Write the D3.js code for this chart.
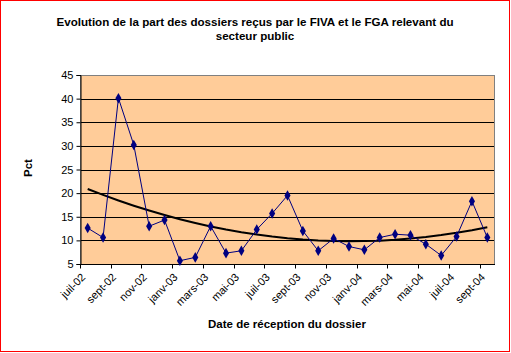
<!DOCTYPE html>
<html lang="fr">
<head>
<meta charset="UTF-8">
<title>Evolution FIVA / FGA</title>
<script src="https://d3js.org/d3.v7.min.js"></script>
<style>
  body { margin: 0; padding: 0; background: #fff; }
  svg { display: block; font-family: "Liberation Sans", Arial, sans-serif; }
  .tick text { font-size: 11px; fill: #000; }
  .title { font-size: 11.6px; font-weight: bold; }
  .axis-title { font-size: 11.5px; font-weight: bold; }
</style>
</head>
<body>
<script>
// months on the x axis (one point per month)
const months = ["juil-02","août-02","sept-02","oct-02","nov-02","déc-02",
  "janv-03","févr-03","mars-03","avr-03","mai-03","juin-03","juil-03","août-03",
  "sept-03","oct-03","nov-03","déc-03","janv-04","févr-04","mars-04","avr-04",
  "mai-04","juin-04","juil-04","août-04","sept-04"];
// share of files from the public sector (%)
const pct = [12.6, 10.6, 40.1, 30.2, 13.0, 14.3, 5.7, 6.4, 13.0, 7.3, 7.8, 12.3,
  15.7, 19.5, 12.0, 7.8, 10.4, 8.7, 8.0, 10.6, 11.3, 11.1, 9.2, 6.8, 10.8, 18.3, 10.6];
const yTicks = [5, 10, 15, 20, 25, 30, 35, 40, 45];

const W = 511, H = 353;
const plot = { left: 80, top: 75, right: 495, bottom: 264 };

const svg = d3.select("body").append("svg")
  .attr("width", W).attr("height", H);

// red outer frame
svg.append("rect")
  .attr("x", 0.5).attr("y", 0.5).attr("width", 509).attr("height", 351)
  .attr("fill", "#fff").attr("stroke", "#ff0000").attr("stroke-width", 1);

const x = d3.scaleBand().domain(months).range([plot.left, plot.right]);
const y = d3.scaleLinear().domain([5, 45]).range([plot.bottom, plot.top]);

// plot background
svg.append("rect")
  .attr("x", plot.left).attr("y", plot.top)
  .attr("width", plot.right - plot.left).attr("height", plot.bottom - plot.top)
  .attr("fill", "#ffcc99");

// horizontal gridlines
svg.append("g")
  .selectAll("line")
  .data(yTicks.slice(1, -1))
  .join("line")
  .attr("x1", plot.left).attr("x2", plot.right)
  .attr("y1", d => Math.round(y(d)) + 0.5).attr("y2", d => Math.round(y(d)) + 0.5)
  .attr("stroke", "#000").attr("stroke-width", 1);

// plot border
svg.append("rect")
  .attr("x", plot.left + 0.5).attr("y", plot.top + 0.5)
  .attr("width", plot.right - plot.left - 1).attr("height", plot.bottom - plot.top)
  .attr("fill", "none").attr("stroke", "#808080");

// y axis
const yAxis = svg.append("g")
  .attr("transform", `translate(${plot.left + 0.5},0)`)
  .call(d3.axisLeft(y).tickValues(yTicks).tickSize(4).tickPadding(3));
yAxis.select(".domain").attr("stroke", "#000");
yAxis.selectAll(".tick text").attr("font-family", "Liberation Sans, Arial, sans-serif");

// x axis: tick marks at every second category boundary
const bw = x.bandwidth();
const xAxisG = svg.append("g").attr("transform", `translate(0,${plot.bottom + 0.5})`);
xAxisG.append("line")
  .attr("x1", plot.left).attr("x2", plot.right)
  .attr("stroke", "#000");
xAxisG.selectAll(".xt")
  .data(months.filter((d, i) => i % 2 === 0))
  .join("line")
  .attr("class", "xt")
  .attr("x1", d => Math.round(x(d)) + 0.5).attr("x2", d => Math.round(x(d)) + 0.5)
  .attr("y1", 0).attr("y2", 4)
  .attr("stroke", "#000");
xAxisG.selectAll(".xl")
  .data(months.filter((d, i) => i % 2 === 0))
  .join("text")
  .attr("class", "xl")
  .attr("font-size", 11)
  .attr("text-anchor", "end")
  .attr("transform", d => `translate(${x(d) + bw / 2 - 7},${8}) rotate(-45)`)
  .attr("dy", "0.7em")
  .text(d => d);

// quadratic trend line (least squares on the monthly values)
function polyFit2(ys) {
  let s = [0, 0, 0, 0, 0], t = [0, 0, 0];
  ys.forEach((v, i) => {
    const xi = i + 1;
    for (let k = 0; k < 5; k++) s[k] += Math.pow(xi, k);
    for (let k = 0; k < 3; k++) t[k] += v * Math.pow(xi, k);
  });
  const A = [[s[0], s[1], s[2], t[0]], [s[1], s[2], s[3], t[1]], [s[2], s[3], s[4], t[2]]];
  for (let i = 0; i < 3; i++) {
    for (let j = i + 1; j < 3; j++) {
      const f = A[j][i] / A[i][i];
      for (let k = i; k < 4; k++) A[j][k] -= f * A[i][k];
    }
  }
  const c = [0, 0, 0];
  for (let i = 2; i >= 0; i--) {
    let sum = A[i][3];
    for (let k = i + 1; k < 3; k++) sum -= A[i][k] * c[k];
    c[i] = sum / A[i][i];
  }
  return c;
}
const coef = polyFit2(pct);
const trend = months.map((m, i) => {
  const xi = i + 1;
  return coef[0] + coef[1] * xi + coef[2] * xi * xi;
});

const cx = d => x(d) + bw / 2;

svg.append("path")
  .datum(months)
  .attr("fill", "none")
  .attr("stroke", "#000")
  .attr("stroke-width", 2)
  .attr("d", d3.line().x(d => cx(d)).y((d, i) => y(trend[i])));

// data series
svg.append("path")
  .datum(months)
  .attr("fill", "none")
  .attr("stroke", "#000080")
  .attr("stroke-width", 1)
  .attr("d", d3.line().x(d => cx(d)).y((d, i) => y(pct[i])));

svg.append("g")
  .selectAll("path")
  .data(months)
  .join("path")
  .attr("transform", (d, i) => `translate(${cx(d)},${y(pct[i])})`)
  .attr("d", d3.symbol().type(d3.symbolDiamond).size(32))
  .attr("fill", "#000080");

// titles
const title = svg.append("text").attr("class", "title")
  .attr("text-anchor", "middle");
title.append("tspan").attr("x", 255).attr("y", 26)
  .text("Evolution de la part des dossiers reçus par le FIVA et le FGA relevant du");
title.append("tspan").attr("x", 255).attr("y", 40).text("secteur public");

svg.append("text").attr("class", "axis-title")
  .attr("text-anchor", "middle")
  .attr("transform", "translate(32,168) rotate(-90)")
  .text("Pct");

svg.append("text").attr("class", "axis-title")
  .attr("text-anchor", "middle")
  .attr("x", 287).attr("y", 328)
  .text("Date de réception du dossier");
</script>
</body>
</html>
